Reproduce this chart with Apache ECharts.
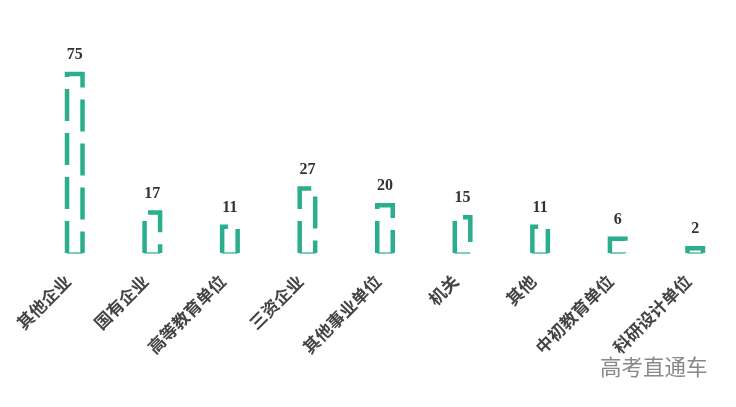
<!DOCTYPE html>
<html><head><meta charset="utf-8">
<script src="https://cdn.jsdelivr.net/npm/echarts@6/dist/echarts.min.js"></script>
<style>html,body{margin:0;padding:0;background:#fff}#c{width:736px;height:407px}</style>
</head><body><div id="c"></div>
<script>
const categories = ['其他企业','国有企业','高等教育单位','三资企业','其他事业单位','机关','其他','中初教育单位','科研设计单位'];
const values = [75,17,11,27,20,15,11,6,2];
const watermark = '高考直通车';

const BAR_W = 15.5;
const COLOR = '#2bae8d';
const chart = echarts.init(document.getElementById('c'));
chart.setOption({
  animation: false,
  grid: {left: 36, right: 2, top: 74, bottom: 154},
  xAxis: {
    type: 'category', data: categories,
    axisLine: {show: false}, axisTick: {show: false},
    axisLabel: {rotate: 45, interval: 0, margin: 21, padding: [0, 8, 0, 0], color: '#444', fontSize: 17, fontWeight: 'bold',
      fontFamily: 'Liberation Serif, "Noto Sans CJK SC", serif'}
  },
  yAxis: {type: 'value', min: 0, max: 75, show: false, splitLine: {show: false}},
  series: [{
    type: 'bar', data: values, barWidth: 17,
    itemStyle: {color: 'rgba(0,0,0,0)', borderWidth: 0},
    label: {show: true, position: 'top', distance: 11, color: '#333', fontSize: 16, fontWeight: 'bold',
      fontFamily: 'Liberation Serif, serif'}
  }, {
    type: 'custom',
    data: values.map((v, i) => [i, v]),
    encode: {x: 0, y: 1},
    renderItem: function (params, api) {
      const top = api.coord([api.value(0), api.value(1)]);
      const bot = api.coord([api.value(0), 0]);
      const xl = top[0] - BAR_W / 2, xr = top[0] + BAR_W / 2;
      return {type: 'group', children: [
        {type: 'line', shape: {x1: xl, y1: bot[1], x2: xr, y2: bot[1]},
          style: {stroke: COLOR, lineWidth: 1.5, opacity: 0.8}},
        {type: 'polyline', shape: {points: [[xl, bot[1]], [xl, top[1]], [xr, top[1]], [xr, bot[1]]]},
          style: {fill: null, stroke: COLOR, lineWidth: 4.5, lineDash: [32, 12], lineDashOffset: 0}}
      ]};
    }
  }],
  graphic: [{type: 'text', left: 600, top: 356,
    style: {text: watermark, fill: '#888', font: '21.5px "Noto Sans CJK SC", sans-serif'}}]
});
</script></body></html>
